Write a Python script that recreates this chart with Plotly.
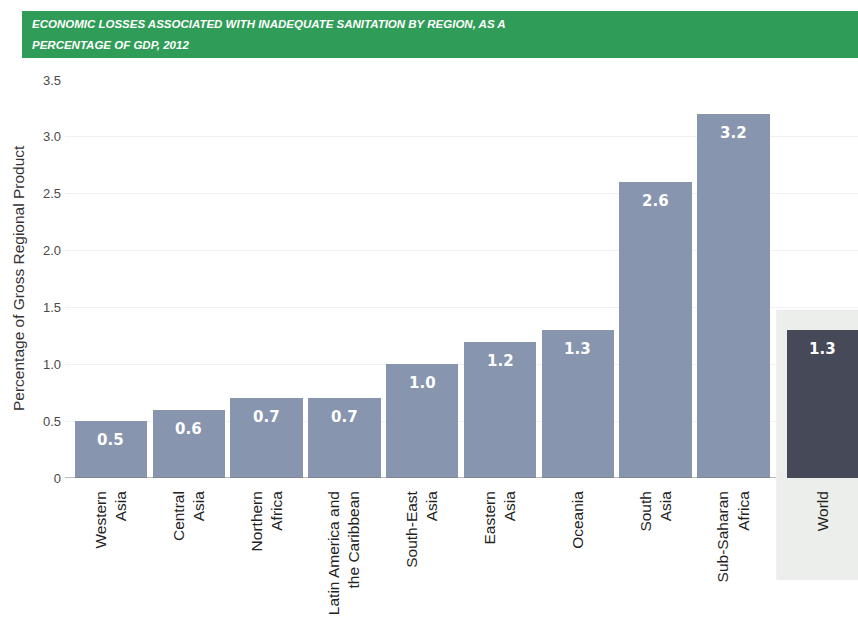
import plotly.graph_objects as go

# Regional economic losses from inadequate sanitation, % of GDP (2012)
regions = ["Western<br>Asia", "Central<br>Asia", "Northern<br>Africa",
           "Latin America and<br>the Caribbean", "South-East<br>Asia",
           "Eastern<br>Asia", "Oceania", "South<br>Asia", "Sub-Saharan<br>Africa"]
region_values = [0.5, 0.6, 0.7, 0.7, 1.0, 1.2, 1.3, 2.6, 3.2]
world_label = "World"
world_value = 1.3

y_ticks = [0, 0.5, 1.0, 1.5, 2.0, 2.5, 3.0, 3.5]
y_tick_text = ["0", "0.5", "1.0", "1.5", "2.0", "2.5", "3.0", "3.5"]

title_lines = ["ECONOMIC LOSSES ASSOCIATED WITH INADEQUATE SANITATION BY REGION, AS A",
               "PERCENTAGE OF GDP, 2012"]
y_title = "Percentage of Gross Regional Product"

region_x = list(range(len(regions)))
world_x = 9.15
x_range = [-0.59, 9.60]
bar_width = 0.93

REGION_COLOR = "#8795af"
WORLD_COLOR = "#464958"
GREEN = "#2f9d57"
PANEL = "#eceeec"
FONT = "Liberation Sans, Arial, sans-serif"

W, H = 858, 617
ML, MR, MT, MB = 65, 0, 80, 139
plot_w = W - ML - MR
plot_h = H - MT - MB


def paper_x(px):
    return (px - ML) / plot_w


def paper_y(py):
    return (H - MB - py) / plot_h


def data_to_paper_x(xv):
    return (xv - x_range[0]) / (x_range[1] - x_range[0])


fig = go.Figure()
fig.add_trace(go.Bar(x=region_x, y=region_values, width=bar_width,
                     marker=dict(color=REGION_COLOR, line=dict(width=0)),
                     hoverinfo="skip"))
fig.add_trace(go.Bar(x=[world_x], y=[world_value], width=bar_width,
                     marker=dict(color=WORLD_COLOR, line=dict(width=0)),
                     hoverinfo="skip"))

annotations = []
# value labels just inside the top of each bar
for xv, v in zip(region_x + [world_x], region_values + [world_value]):
    annotations.append(dict(x=xv, y=v, xref="x", yref="y", text=f"{v:.1f}",
                            showarrow=False, xanchor="center", yanchor="middle", yshift=-19,
                            font=dict(family="DejaVu Sans, sans-serif", size=15,
                                      color="white", weight="bold")))

# banner title, one annotation per line
for line, py in zip(title_lines, [24, 45]):
    annotations.append(dict(
        x=paper_x(30), y=paper_y(py), xref="paper", yref="paper", showarrow=False,
        text=f"<b><i>{line}</i></b>", xanchor="left", yanchor="middle", align="left",
        font=dict(family=FONT, size=11.5, color="white")))

# y-axis title
annotations.append(dict(
    x=paper_x(18), y=paper_y(278), xref="paper", yref="paper", showarrow=False,
    text=y_title, textangle=-90, xanchor="center", yanchor="middle",
    font=dict(family=FONT, size=15.5, color="#333333")))

box_left = data_to_paper_x(world_x - 0.6)

shapes = [
    # light panel behind the world bar
    dict(type="rect", xref="paper", yref="paper", layer="below",
         x0=box_left, x1=1.02, y0=paper_y(580), y1=1.48 / 3.5,
         fillcolor=PANEL, line=dict(width=0)),
    # baseline
    dict(type="line", xref="paper", yref="y", x0=0, x1=box_left, y0=0, y1=0,
         line=dict(color="#777777", width=1)),
    # green title band
    dict(type="rect", xref="paper", yref="paper", layer="below",
         x0=paper_x(22), x1=paper_x(W) + 0.01, y0=paper_y(58), y1=paper_y(11),
         fillcolor=GREEN, line=dict(width=0)),
]

fig.update_layout(
    width=W, height=H,
    margin=dict(l=ML, r=MR, t=MT, b=MB, pad=0),
    paper_bgcolor="white", plot_bgcolor="rgba(0,0,0,0)",
    showlegend=False, bargap=0,
    annotations=annotations, shapes=shapes,
    xaxis=dict(range=x_range, tickmode="array",
               tickvals=region_x + [world_x], ticktext=regions + [world_label],
               tickangle=-90, showgrid=False, zeroline=False, showline=False,
               ticks="", ticklabelstandoff=9,
               tickfont=dict(family=FONT, size=15.5, color="#222222")),
    yaxis=dict(range=[0, 3.5], tickmode="array", tickvals=y_ticks, ticktext=y_tick_text,
               showgrid=True, gridcolor="#f0f0f0", gridwidth=1,
               zeroline=False, showline=False, ticks="", ticklabelstandoff=3,
               tickfont=dict(family=FONT, size=13, color="#4a4a4a")),
)

fig.write_html("out.html")
